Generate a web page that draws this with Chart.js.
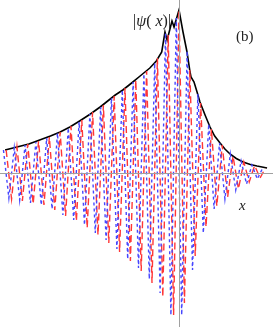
<!DOCTYPE html>
<html>
<head>
<meta charset="utf-8">
<script src="https://cdn.jsdelivr.net/npm/chart.js"></script>
<style>
  html, body { margin: 0; padding: 0; background: #fff; }
  .wrap { width: 273px; height: 327px; position: relative; }
</style>
</head>
<body>
<div class="wrap"><canvas id="psiChart"></canvas></div>
<script>
  // x in units of one oscillation period, y in arbitrary amplitude units
  const envX = [-16.1, -15.0, -13.9, -12.9, -11.9, -11.0, -10.1, -9.2, -8.2, -7.3, -6.6, -5.9, -5.2, -4.5, -3.6, -2.7, -2.1,
    -1.6, -1.3, -1.1, -0.65, -0.46, 0,
    0.37, 0.74, 1.02, 1.11, 1.39, 1.67, 1.94, 2.41, 2.87, 3.3, 3.8, 4.25, 4.72, 5.3, 5.93, 6.6, 7.22, 8.15];
  const envY = [2.3, 2.6, 2.9, 3.3, 3.7, 4.1, 4.6, 5.2, 5.9, 6.6, 7.2, 7.8, 8.3, 8.9, 9.7, 10.5, 11.2,
    12.1, 14.1, 13.3, 15.2, 14.6, 16.3,
    14.1, 12.1, 10.1, 9.6, 9.1, 8.1, 7.1, 5.8, 4.6, 3.7, 3.0, 2.4, 1.9, 1.45, 1.1, 0.85, 0.7, 0.5];

  const reX = [-16, -15.5, -15, -14.5, -14, -13.5, -13, -12.5, -12, -11.5, -11, -10.5, -10, -9.5, -9, -8.5,
    -8, -7.5, -7, -6.5, -6, -5.5, -5, -4.5, -4, -3.5, -3, -2.5, -2, -1.5, -1, -0.5,
    0, 0.5, 1, 1.5, 2, 2.5, 3, 3.5, 4, 4.5, 5, 5.5, 6, 6.5, 7, 7.5, 8];
  const reY = [2.3, -2.6, 2.6, -2.8, 2.9, -3.1, 3.2, -3.2, 3.6, -3.7, 4.1, -4.3, 4.7, -4.8, 5.3, -5.5,
    6.1, -6.2, 6.8, -7.0, 7.7, -7.9, 8.5, -8.8, 9.3, -9.8, 10.2, -11.0, 11.5, -12.4, 13.8, -14.2,
    16.3, -13.0, 10.3, -8.3, 7.0, -5.4, 4.4, -3.3, 2.8, -2.4, 1.7, -1.6, 1.1, -0.9, 0.75, -0.5, 0.5];

  const imX = [-16.25, -15.75, -15.25, -14.75, -14.25, -13.75, -13.25, -12.75, -12.25, -11.75, -11.25, -10.75,
    -10.25, -9.75, -9.25, -8.75, -8.25, -7.75, -7.25, -6.75, -6.25, -5.75, -5.25, -4.75, -4.25, -3.75,
    -3.25, -2.75, -2.25, -1.75, -1.25, -0.75, -0.25, 0.25, 0.75, 1.25, 1.75, 2.25, 2.75, 3.25, 3.75,
    4.25, 4.75, 5.25, 5.75, 6.25, 6.75, 7.25, 7.75];
  const imY = [2.3, -2.5, 2.5, -2.7, 2.8, -3.0, 3.1, -3.2, 3.5, -3.6, 4.0, -4.2,
    4.5, -4.7, 5.1, -5.2, 5.9, -6.0, 6.6, -6.7, 7.5, -7.6, 8.3, -8.6, 9.1, -9.5,
    9.9, -10.6, 11.0, -12.0, 14.0, -14.2, 15.5, -14.2, 12.2, -9.7, 7.9, -6.0, 4.9, -3.6, 3.0,
    -2.6, 1.9, -1.7, 1.2, -1.1, 0.8, -0.6, 0.5];

  const xRange = [-16.57, 8.7];
  const yRange = [-15.4, 17.3];

  function pts(xs, ys) {
    return xs.map((x, i) => ({ x: x, y: ys[i] }));
  }

  const decor = {
    id: 'decor',
    afterDatasetsDraw(chart) {
      const ctx = chart.ctx;
      const sx = chart.scales.x, sy = chart.scales.y;
      const a = chart.chartArea;
      const x0 = Math.round(sx.getPixelForValue(0)) + 0.5;
      const y0 = Math.round(sy.getPixelForValue(0)) + 0.5;
      ctx.save();
      ctx.strokeStyle = '#a0a0a0';
      ctx.lineWidth = 1;
      ctx.beginPath();
      ctx.moveTo(a.left, y0);
      ctx.lineTo(a.right, y0);
      ctx.moveTo(x0, a.top);
      ctx.lineTo(x0, a.bottom);
      ctx.stroke();

      ctx.fillStyle = '#222';
      ctx.textBaseline = 'alphabetic';
      // |ψ(x)| label
      const parts = [['|', ''], ['\u03c8', 'italic '], ['( ', ''], ['x', 'italic '], [')', ''], ['|', '']];
      let tx = a.left + 133;
      parts.forEach(p => {
        ctx.font = p[1] + '16px "Liberation Serif", serif';
        ctx.fillText(p[0], tx, a.top + 26);
        tx += ctx.measureText(p[0]).width;
      });
      ctx.font = '15px "Liberation Serif", serif';
      ctx.fillText('(b)', a.left + 236, a.top + 41);
      ctx.font = 'italic 15px "Liberation Serif", serif';
      ctx.fillText('x', a.left + 239, a.top + 210);
      ctx.restore();
    }
  };

  new Chart(document.getElementById('psiChart'), {
    type: 'scatter',
    data: {
      datasets: [
        {
          label: 'Im',
          data: pts(imX, imY),
          showLine: true,
          borderColor: 'rgb(70, 70, 255)',
          borderWidth: 1.4,
          borderDash: [3, 3],
          pointRadius: 0,
          tension: 0,
        },
        {
          label: 'Re',
          data: pts(reX, reY),
          showLine: true,
          borderColor: 'rgb(255, 55, 55)',
          borderWidth: 1.4,
          borderDash: [7, 4],
          pointRadius: 0,
          tension: 0,
        },
        {
          label: '|psi|',
          data: pts(envX, envY),
          showLine: true,
          borderColor: '#000',
          borderWidth: 1.6,
          pointRadius: 0,
          tension: 0,
        },
      ],
    },
    options: {
      responsive: true,
      maintainAspectRatio: false,
      animation: false,
      layout: { padding: 0 },
      plugins: {
        legend: { display: false },
        tooltip: { enabled: false },
      },
      scales: {
        x: { type: 'linear', display: false, min: xRange[0], max: xRange[1] },
        y: { type: 'linear', display: false, min: yRange[0], max: yRange[1] },
      },
    },
    plugins: [decor],
  });
</script>
</body>
</html>
